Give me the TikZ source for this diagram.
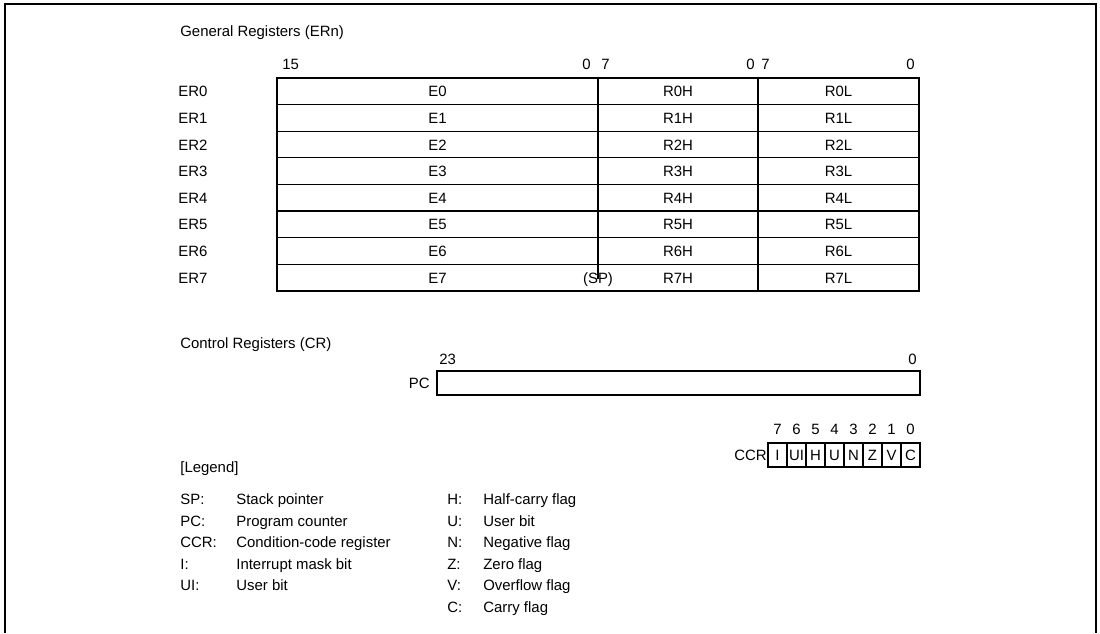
\documentclass[tikz,border=0pt]{standalone}
\usepackage{fontspec}
\setmainfont{Liberation Sans}
\usetikzlibrary{positioning}

\begin{document}
\begin{tikzpicture}[
  x=0.02cm, y=-0.02cm,
  txt/.style={font=\fontsize{8.5}{10}\selectfont, inner sep=0pt, text height=1.55ex, text depth=0.35ex},
  regbox/.style={draw, line width=1.1pt},
  sep/.style={draw, line width=0.6pt},
  outline/.style={draw, line width=1.4pt}
]
\useasboundingbox (0,0) rectangle (1100,633);
\draw[outline] (5,633) -- (5,4) -- (1096,4) -- (1096,633);

% general registers
\node[txt, anchor=west] (gentitle) at (180,31) {General Registers (ERn)};
\node[txt, anchor=west] (b15) at (282,64) {15};
\node[txt, anchor=east] (b0a) at (591,64) {0};
\node[txt, anchor=west] (b7a) at (601,64) {7};
\node[txt, anchor=east] (b0b) at (755,64) {0};
\node[txt, anchor=west] (b7b) at (761,64) {7};
\node[txt, anchor=east] (b0c) at (915,64) {0};

\foreach \i in {1,...,7}
  \draw[sep] (277,78+26.6*\i) -- (919,78+26.6*\i);
\draw[sep] (758,78) -- (758,291);
\draw[sep] (598,78) -- (598,276);
\draw[regbox] (277,78) rectangle (919,291);

\foreach \i in {0,...,7}{
  \node[txt, anchor=west] (er\i) at (178,91.3+26.6*\i) {ER\i};
  \node[txt] (e\i) at (437.5,91.3+26.6*\i) {E\i};
  \node[txt] (rh\i) at (678,91.3+26.6*\i) {R\i H};
  \node[txt] (rl\i) at (838.5,91.3+26.6*\i) {R\i L};
}
\node[txt, fill=white, inner sep=0.5pt] (sp) at (598,278) {(SP)};
\draw[sep] (598,264) -- (598,279);

% control registers
\node[txt, anchor=west] (ctltitle) at (180,343) {Control Registers (CR)};
\node[txt, anchor=west] (b23) at (439,359) {23};
\node[txt, anchor=east] (b0d) at (917,359) {0};
\draw[regbox] (437,371) rectangle (920,395);
\node[txt, anchor=east] (pc) at (430,383) {PC};

\foreach \k/\b/\f in {0/7/I,1/6/UI,2/5/H,3/4/U,4/3/N,5/2/Z,6/1/V,7/0/C}{
  \node[txt] (n\b) at (777.5+19*\k,429) {\b};
  \node[txt] (f\b) at (777.5+19*\k,455) {\f};
}
\foreach \k in {1,...,7}
  \draw[sep] (768+19*\k,443) -- (768+19*\k,467);
\draw[regbox] (768,443) rectangle (920,467);
\node[txt, anchor=east] (ccr) at (767,455) {CCR};

% legend
\node[txt, anchor=west] (legend) at (180,467) {[Legend]};
\foreach \k/\a/\d in {0/SP:/Stack pointer,1/PC:/Program counter,
  2/CCR:/Condition-code register,3/I:/Interrupt mask bit,4/UI:/User bit}{
  \node[txt, anchor=west] (lk\k) at (180,499+21.5*\k) {\a};
  \node[txt, anchor=west] (ld\k) at (236,499+21.5*\k) {\d};
}
\foreach \k/\a/\d in {0/H:/Half-carry flag,1/U:/User bit,2/N:/Negative flag,
  3/Z:/Zero flag,4/V:/Overflow flag,5/C:/Carry flag}{
  \node[txt, anchor=west] (rk\k) at (447,499+21.5*\k) {\a};
  \node[txt, anchor=west] (rd\k) at (483,499+21.5*\k) {\d};
}
\end{tikzpicture}
\end{document}
